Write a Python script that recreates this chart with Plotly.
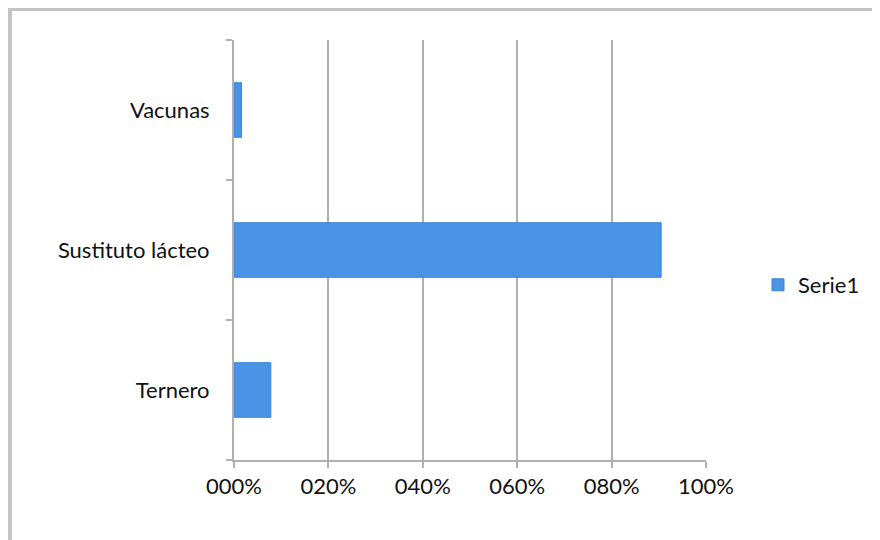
import plotly.graph_objects as go

# data
categorias = ["Ternero", "Sustituto lácteo", "Vacunas"]
valores = [0.078, 0.905, 0.016]
ticks_x = [0, 0.2, 0.4, 0.6, 0.8, 1.0]
etiquetas_x = ["000%", "020%", "040%", "060%", "080%", "100%"]

# page has ~8px body margin, so the figure is a bit smaller and shifted
OFF = 8
W, H = 880 - OFF, 540 - OFF
L, T = 234 - OFF, 40 - OFF
R = W - (706 - OFF)
B = H - (460 - OFF)
pw, ph = W - L - R, H - T - B

def px_x(p):
    return (p - OFF - L) / pw

def px_y(p):
    return (H - B - (p - OFF)) / ph

fig = go.Figure()
fig.add_trace(go.Bar(
    x=valores, y=categorias, orientation="h", name="Serie1",
    marker=dict(color="#4a93e6", line=dict(color="#3a84d8", width=1)),
))

grid = "#b0b0b0"
fig.update_layout(
    width=W, height=H,
    margin=dict(l=L, r=R, t=T, b=B),
    paper_bgcolor="white", plot_bgcolor="white",
    font=dict(family="Lato, 'Open Sans', sans-serif", size=22, color="#111"),
    bargap=0.61,
    showlegend=True,
    legend=dict(x=px_x(758), y=px_y(285), xanchor="left", yanchor="middle",
                font=dict(size=22), itemwidth=30),
    xaxis=dict(range=[0, 1.0], tickvals=ticks_x, ticktext=etiquetas_x,
               showgrid=True, gridcolor=grid, gridwidth=2, zeroline=False,
               showline=True, linecolor=grid, linewidth=2,
               ticks="outside", ticklen=6, tickcolor=grid, tickwidth=2,
               ticklabelstandoff=0),
    yaxis=dict(tickson="boundaries", ticks="outside", ticklen=6, tickcolor=grid,
               tickwidth=2, showline=True, linecolor=grid, linewidth=2,
               showgrid=False, ticklabelstandoff=18),
)

# outer frame (top and left edges only)
fig.add_shape(type="line", xref="paper", yref="paper",
              x0=px_x(10), x1=px_x(890), y0=px_y(9), y1=px_y(9),
              line=dict(color="#c4c4c4", width=4))
fig.add_shape(type="line", xref="paper", yref="paper",
              x0=px_x(10), x1=px_x(10), y0=px_y(7), y1=px_y(550),
              line=dict(color="#c4c4c4", width=4))

fig.write_html("out.html")
